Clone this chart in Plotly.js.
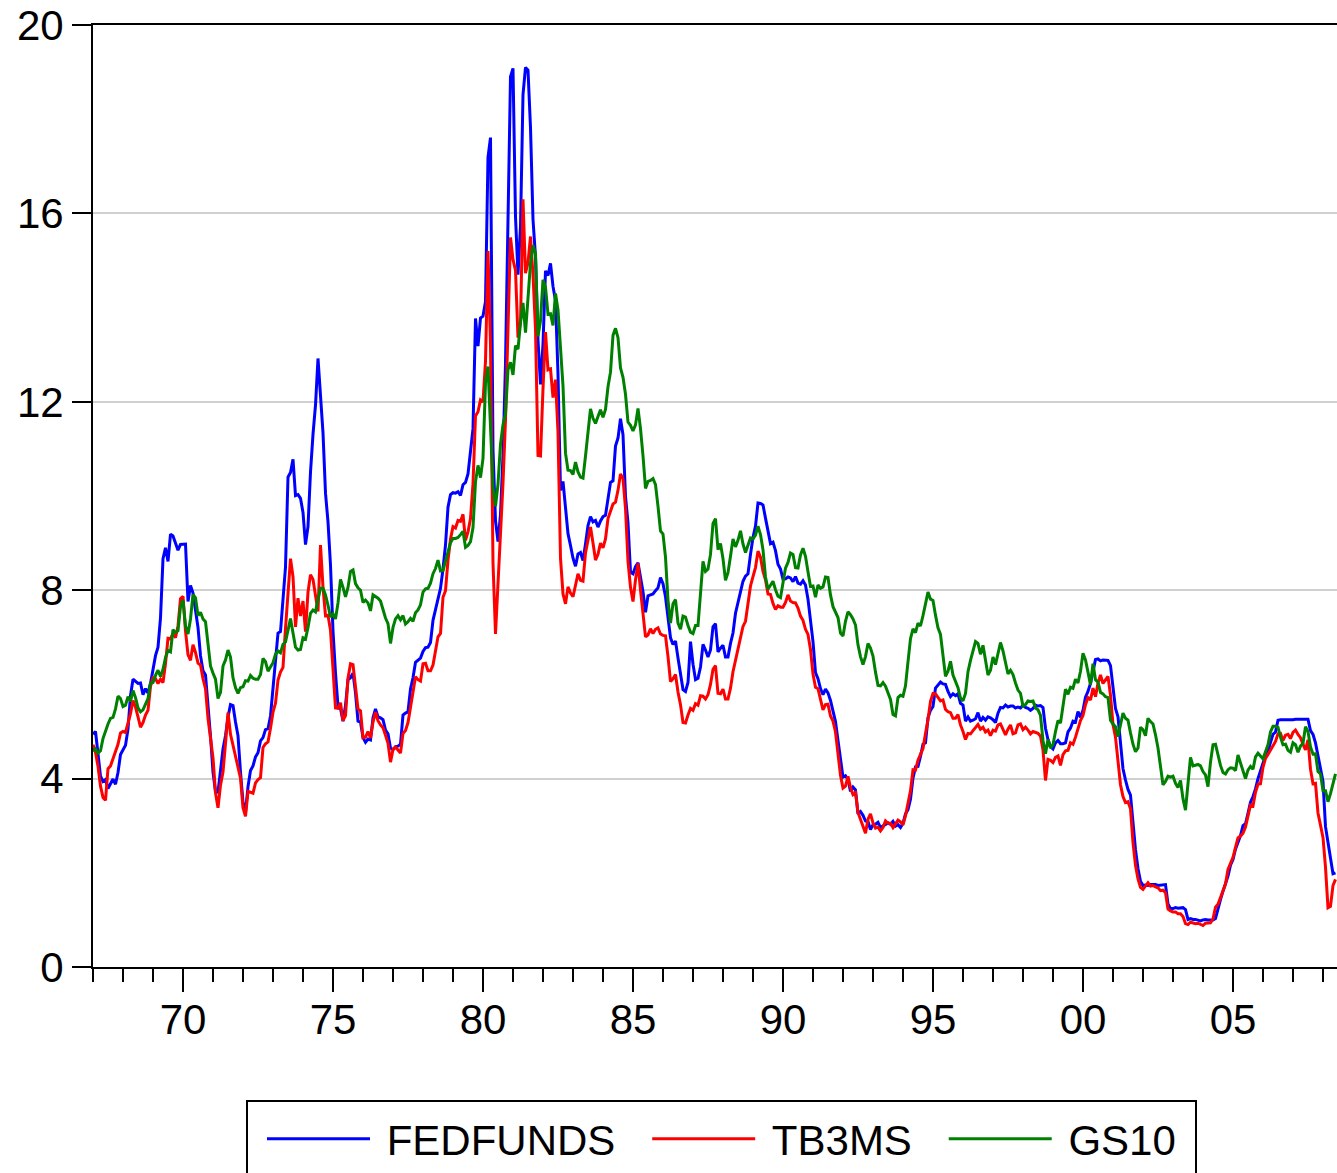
<!DOCTYPE html>
<html>
<head>
<meta charset="utf-8">
<script src="https://cdn.plot.ly/plotly-3.0.1.min.js"></script>
<style>
  html, body { margin: 0; padding: 0; background: #ffffff; }
  #chart { width: 1337px; height: 1173px; }
</style>
</head>
<body>
<div id="chart"></div>
<script>
// Monthly observations, 1967:01 - 2008:06
var startYear = 1967;
var seriesNames = ["FEDFUNDS", "TB3MS", "GS10"];
var xTickYears = [1970, 1975, 1980, 1985, 1990, 1995, 2000, 2005];
var xTickLabels = ["70", "75", "80", "85", "90", "95", "00", "05"];
var yTickValues = [0, 4, 8, 12, 16, 20];

var fedfunds = [
  4.94,5.00,4.53,4.05,3.94,3.98,3.79,3.90,3.99,3.88,4.13,4.51,
  4.60,4.71,5.05,5.76,6.11,6.07,6.02,6.03,5.78,5.91,5.82,6.02,
  6.30,6.61,6.79,7.41,8.67,8.90,8.61,9.19,9.15,9.00,8.85,8.97,
  8.98,8.98,7.76,8.10,7.94,7.60,7.21,6.61,6.29,6.20,5.60,4.90,
  4.14,3.72,3.71,4.16,4.63,4.91,5.31,5.57,5.55,5.20,4.91,4.14,
  3.50,3.29,3.83,4.17,4.27,4.46,4.55,4.80,4.87,5.04,5.06,5.33,
  5.94,6.58,7.09,7.12,7.84,8.49,10.40,10.50,10.78,10.01,10.03,9.95,
  9.65,8.97,9.35,10.51,11.31,11.93,12.92,12.01,11.34,10.06,9.45,8.53,
  7.13,6.24,5.54,5.49,5.22,5.55,6.10,6.14,6.24,5.82,5.22,5.20,
  4.87,4.77,4.84,4.82,5.29,5.48,5.31,5.29,5.25,5.03,4.95,4.65,
  4.61,4.68,4.69,4.73,5.35,5.39,5.42,5.90,6.14,6.47,6.51,6.56,
  6.70,6.78,6.79,6.89,7.36,7.60,7.81,8.04,8.45,8.96,9.76,10.03,
  10.07,10.06,10.09,10.01,10.24,10.29,10.47,10.94,11.43,13.77,13.18,13.78,
  13.82,14.13,17.19,17.61,10.98,9.47,9.03,9.61,10.87,12.81,15.85,18.90,
  19.08,15.93,14.70,15.72,18.52,19.10,19.04,17.82,15.87,15.08,13.31,12.37,
  13.22,14.78,14.68,14.94,14.45,14.15,12.59,10.12,10.31,9.71,9.20,8.95,
  8.68,8.51,8.77,8.80,8.63,8.98,9.37,9.56,9.45,9.48,9.34,9.47,
  9.56,9.59,9.91,10.29,10.32,11.06,11.23,11.64,11.30,9.99,9.43,8.38,
  8.35,8.50,8.58,8.27,7.97,7.53,7.88,7.90,7.92,7.99,8.05,8.27,
  8.14,7.86,7.48,6.99,6.85,6.92,6.56,6.17,5.89,5.85,6.04,6.91,
  6.43,6.10,6.13,6.37,6.85,6.73,6.58,6.73,7.22,7.29,6.69,6.77,
  6.83,6.58,6.58,6.87,7.09,7.51,7.75,8.01,8.19,8.30,8.35,8.76,
  9.12,9.36,9.85,9.84,9.81,9.53,9.24,8.99,9.02,8.84,8.55,8.45,
  8.23,8.24,8.28,8.26,8.18,8.29,8.15,8.13,8.20,8.11,7.81,7.31,
  6.91,6.25,6.12,5.91,5.78,5.90,5.82,5.66,5.45,5.21,4.81,4.43,
  4.03,4.06,3.98,3.73,3.82,3.76,3.25,3.30,3.22,3.10,3.09,2.92,
  3.02,3.03,3.07,2.96,3.00,3.04,3.06,3.03,3.09,2.99,3.02,2.96,
  3.05,3.25,3.34,3.56,4.01,4.25,4.26,4.47,4.73,4.76,5.29,5.45,
  5.53,5.92,5.98,6.05,6.01,6.00,5.85,5.74,5.80,5.76,5.80,5.60,
  5.56,5.22,5.31,5.22,5.24,5.27,5.40,5.22,5.30,5.24,5.31,5.29,
  5.25,5.19,5.39,5.51,5.50,5.56,5.52,5.54,5.54,5.50,5.52,5.50,
  5.56,5.51,5.49,5.45,5.49,5.56,5.54,5.55,5.51,5.07,4.83,4.68,
  4.63,4.76,4.81,4.74,4.74,4.76,4.99,5.07,5.22,5.20,5.42,5.30,
  5.45,5.73,5.85,6.02,6.27,6.53,6.54,6.50,6.52,6.51,6.51,6.40,
  5.98,5.49,5.31,4.80,4.21,3.97,3.77,3.65,3.07,2.49,2.09,1.82,
  1.73,1.74,1.73,1.75,1.75,1.75,1.73,1.74,1.75,1.75,1.34,1.24,
  1.24,1.26,1.25,1.26,1.26,1.22,1.01,1.03,1.01,1.01,1.00,0.98,
  1.00,1.01,1.00,1.00,1.00,1.03,1.26,1.43,1.61,1.76,1.93,2.16,
  2.28,2.50,2.63,2.79,3.00,3.04,3.26,3.50,3.62,3.78,4.00,4.16,
  4.29,4.49,4.59,4.79,4.94,4.99,5.24,5.25,5.25,5.25,5.25,5.24,
  5.25,5.26,5.26,5.25,5.25,5.25,5.26,5.02,4.94,4.76,4.49,4.24,
  3.94,2.98,2.61,2.28,1.98,2.00
];

var tb3ms = [
  4.72,4.56,4.26,3.84,3.60,3.54,4.21,4.27,4.42,4.56,4.73,4.97,
  5.00,4.98,5.17,5.38,5.66,5.52,5.31,5.09,5.19,5.35,5.45,5.96,
  6.14,6.12,6.02,6.11,6.04,6.44,6.98,6.97,7.08,6.99,7.24,7.82,
  7.87,7.13,6.63,6.51,6.84,6.68,6.45,6.41,6.12,5.91,5.28,4.87,
  4.44,3.70,3.38,3.86,4.14,4.75,5.40,4.94,4.69,4.46,4.22,4.01,
  3.38,3.20,3.73,3.71,3.69,3.91,3.98,4.02,4.66,4.74,4.78,5.07,
  5.41,5.60,6.09,6.26,6.36,7.19,8.01,8.67,8.29,7.22,7.83,7.45,
  7.77,7.12,7.96,8.33,8.23,7.90,7.55,8.96,8.06,7.46,7.47,7.15,
  6.26,5.50,5.49,5.61,5.23,5.34,6.13,6.44,6.42,5.96,5.48,5.44,
  4.87,4.88,5.00,4.86,5.20,5.41,5.23,5.14,5.08,4.92,4.75,4.35,
  4.62,4.67,4.60,4.54,4.96,5.02,5.19,5.49,5.81,6.16,6.10,6.07,
  6.44,6.45,6.29,6.29,6.41,6.73,7.01,7.08,7.85,7.99,8.64,9.08,
  9.35,9.32,9.48,9.46,9.61,9.06,9.24,9.52,10.26,11.70,11.79,12.04,
  12.00,12.86,15.20,13.20,8.58,7.07,8.06,9.13,10.27,11.62,13.73,15.49,
  15.02,14.79,13.36,13.69,16.30,14.73,14.95,15.51,14.70,13.54,10.86,10.85,
  12.28,13.48,12.68,12.70,12.09,12.47,11.35,8.68,7.92,7.71,8.07,7.94,
  7.86,8.11,8.35,8.21,8.19,8.79,9.08,9.34,9.00,8.64,8.76,9.00,
  8.90,9.09,9.52,9.69,9.83,9.87,10.12,10.47,10.37,9.74,8.61,8.06,
  7.76,8.22,8.57,8.00,7.56,7.01,7.05,7.18,7.08,7.17,7.20,7.07,
  7.04,7.03,6.59,6.06,6.12,6.21,5.84,5.57,5.19,5.18,5.35,5.49,
  5.45,5.59,5.56,5.76,5.75,5.69,5.78,6.00,6.32,6.40,5.81,5.80,
  5.90,5.69,5.69,5.92,6.27,6.50,6.73,7.02,7.23,7.34,7.68,8.09,
  8.29,8.48,8.83,8.70,8.40,8.22,7.92,7.91,7.72,7.59,7.67,7.64,
  7.64,7.74,7.90,7.77,7.74,7.73,7.62,7.45,7.36,7.17,7.06,6.74,
  6.22,5.94,5.91,5.65,5.46,5.57,5.58,5.33,5.22,4.99,4.56,4.07,
  3.80,3.84,4.05,3.81,3.66,3.70,3.28,3.14,2.97,2.84,3.14,3.25,
  3.06,2.95,2.97,2.89,2.96,3.10,3.05,3.05,2.96,3.04,3.12,3.08,
  3.02,3.21,3.52,3.74,4.19,4.18,4.39,4.50,4.64,4.96,5.25,5.64,
  5.81,5.80,5.73,5.65,5.67,5.47,5.42,5.40,5.28,5.28,5.36,5.14,
  5.00,4.83,4.96,4.95,5.02,5.09,5.15,5.05,5.09,4.99,5.03,4.91,
  5.03,5.01,5.14,5.16,5.05,4.93,5.05,5.14,4.95,4.97,5.14,5.16,
  5.04,5.09,5.03,4.95,5.00,4.98,4.96,4.90,4.61,3.96,4.41,4.39,
  4.34,4.45,4.48,4.28,4.51,4.59,4.60,4.76,4.73,4.88,5.07,5.23,
  5.34,5.57,5.72,5.67,5.92,5.74,6.03,6.20,6.02,6.11,6.17,5.77,
  5.15,4.88,4.42,3.87,3.62,3.49,3.51,3.36,2.64,2.16,1.87,1.69,
  1.65,1.73,1.79,1.72,1.73,1.70,1.68,1.62,1.63,1.58,1.23,1.19,
  1.17,1.17,1.13,1.13,1.07,0.92,0.90,0.95,0.94,0.92,0.93,0.90,
  0.88,0.93,0.94,0.94,1.02,1.27,1.33,1.48,1.65,1.76,2.07,2.19,
  2.33,2.54,2.74,2.78,2.84,2.97,3.22,3.44,3.42,3.71,3.88,3.89,
  4.24,4.43,4.51,4.60,4.72,4.79,4.95,4.96,4.81,4.92,4.94,4.85,
  4.98,5.03,4.94,4.87,4.73,4.61,4.82,4.20,3.89,3.90,3.27,3.00,
  2.75,2.12,1.26,1.29,1.73,1.86
];

var gs10 = [
  4.58,4.63,4.54,4.59,4.85,5.02,5.16,5.28,5.30,5.48,5.75,5.70,
  5.53,5.56,5.74,5.64,5.87,5.72,5.50,5.42,5.46,5.58,5.70,6.03,
  6.04,6.19,6.30,6.17,6.32,6.57,6.72,6.69,7.16,7.10,7.14,7.65,
  7.79,7.24,7.07,7.39,7.91,7.84,7.46,7.53,7.39,7.33,6.84,6.39,
  6.24,6.11,5.70,5.83,6.39,6.52,6.73,6.58,6.14,5.93,5.81,5.93,
  5.95,6.08,6.07,6.19,6.13,6.11,6.11,6.21,6.55,6.48,6.28,6.36,
  6.46,6.64,6.71,6.67,6.85,6.90,7.13,7.40,7.09,6.79,6.73,6.74,
  6.99,6.96,7.21,7.51,7.58,7.54,7.81,8.04,8.04,7.90,7.68,7.43,
  7.50,7.39,7.73,8.23,8.06,7.86,8.06,8.40,8.43,8.14,8.05,8.00,
  7.74,7.79,7.73,7.56,7.90,7.86,7.83,7.77,7.59,7.41,7.29,6.87,
  7.21,7.39,7.46,7.37,7.46,7.28,7.33,7.40,7.34,7.52,7.58,7.69,
  7.96,8.03,8.04,8.15,8.35,8.46,8.64,8.41,8.42,8.64,8.81,9.01,
  9.10,9.10,9.12,9.18,9.25,8.91,8.95,9.03,9.33,10.30,10.65,10.39,
  10.80,12.41,12.75,11.47,10.18,9.78,10.25,11.10,11.51,11.75,12.68,12.84,
  12.57,13.19,13.12,13.68,14.10,13.47,14.28,14.94,15.32,15.15,13.39,13.72,
  14.59,14.43,13.86,13.87,13.62,14.30,13.95,13.06,12.34,10.91,10.55,10.54,
  10.46,10.72,10.51,10.40,10.38,10.85,11.38,11.85,11.65,11.54,11.69,11.83,
  11.67,11.84,12.32,12.63,13.41,13.56,13.36,12.72,12.52,12.16,11.57,11.50,
  11.38,11.51,11.86,11.43,10.85,10.16,10.31,10.33,10.37,10.24,9.78,9.26,
  9.19,8.70,7.78,7.30,7.71,7.80,7.30,7.17,7.45,7.43,7.25,7.11,
  7.08,7.25,7.25,8.02,8.61,8.40,8.45,8.76,9.42,9.52,8.86,8.99,
  8.67,8.21,8.37,8.72,9.09,8.92,9.06,9.26,8.98,8.80,8.96,9.11,
  9.09,9.17,9.36,9.18,8.86,8.28,8.02,8.11,8.19,8.01,7.87,7.84,
  8.21,8.47,8.59,8.79,8.76,8.48,8.47,8.75,8.89,8.72,8.39,8.08,
  8.09,7.85,8.11,8.04,8.07,8.28,8.27,7.90,7.65,7.53,7.42,7.09,
  7.03,7.34,7.54,7.48,7.39,7.26,6.84,6.59,6.42,6.59,6.87,6.77,
  6.60,6.26,5.98,5.97,6.04,5.96,5.81,5.68,5.36,5.33,5.72,5.77,
  5.75,5.97,6.48,6.97,7.18,7.10,7.30,7.24,7.46,7.74,7.96,7.81,
  7.78,7.47,7.20,7.06,6.63,6.17,6.28,6.49,6.20,6.04,5.93,5.71,
  5.65,5.81,6.27,6.51,6.74,6.91,6.87,6.64,6.83,6.53,6.20,6.30,
  6.58,6.42,6.69,6.89,6.71,6.49,6.22,6.30,6.21,6.03,5.88,5.81,
  5.54,5.57,5.65,5.64,5.65,5.50,5.46,5.34,4.81,4.53,4.83,4.65,
  4.72,5.00,5.23,5.18,5.54,5.90,5.79,5.94,5.92,6.11,6.03,6.28,
  6.66,6.52,6.26,5.99,6.44,6.10,6.05,5.83,5.80,5.74,5.72,5.24,
  5.16,5.10,4.89,5.14,5.39,5.28,5.24,4.97,4.73,4.57,4.65,5.09,
  5.04,4.91,5.28,5.21,5.16,4.93,4.65,4.26,3.87,3.94,4.05,4.03,
  4.05,3.90,3.81,3.96,3.57,3.33,3.98,4.45,4.27,4.29,4.30,4.27,
  4.15,4.08,3.83,4.35,4.72,4.73,4.50,4.28,4.13,4.10,4.19,4.23,
  4.22,4.17,4.50,4.34,4.14,4.00,4.18,4.26,4.20,4.46,4.54,4.47,
  4.42,4.57,4.72,4.99,5.11,5.11,5.09,4.88,4.72,4.73,4.60,4.56,
  4.76,4.72,4.56,4.69,4.75,5.10,5.00,4.67,4.52,4.53,4.15,4.10,
  3.74,3.74,3.51,3.68,3.88,4.10
];

var seriesColors = ["#0000ff", "#ff0000", "#008000"];

// x positions: observation month expressed as decimal year
var xs = [];
for (var i = 0; i < fedfunds.length; i++) { xs.push(startYear + i / 12); }

var FONT = "Arial, 'Liberation Sans', Helvetica, sans-serif";
var NB = "\u00a0";
var seriesData = [fedfunds, tb3ms, gs10];
var traces = seriesData.map(function (vals, k) {
  // legend labels padded with non-breaking spaces to reproduce the legend spacing
  var label = NB + seriesNames[k] + (k < seriesNames.length - 1 ? NB + NB + "\u200a" : "");
  return {
    type: "scatter", mode: "lines",
    x: xs, y: vals, name: label,
    line: { color: seriesColors[k], width: 3 },
    hoverinfo: "skip"
  };
});

var minorYears = [];
for (var yr = 1967; yr <= 2008; yr++) minorYears.push(yr);

// paper-coordinate helpers for the legend frame (plot area: x 93..1337, y 25..967)
function px2x(p) { return (p - 93) / 1244; }
function py2y(p) { return (967 - p) / 942; }

var layout = {
  width: 1337, height: 1173,
  margin: { l: 93, r: 0, t: 25, b: 206, pad: 0, autoexpand: false },
  paper_bgcolor: "#ffffff", plot_bgcolor: "#ffffff",
  font: { family: FONT, color: "#000000", size: 42 },
  showlegend: true,
  xaxis: {
    range: [1967, 2008.467],
    tickmode: "array", tickvals: xTickYears, ticktext: xTickLabels,
    ticks: "outside", ticklen: 23, tickwidth: 2, tickcolor: "#000000",
    ticklabelstandoff: -8,
    showline: true, linewidth: 2, linecolor: "#000000", mirror: true,
    showgrid: false, zeroline: false,
    tickfont: { family: FONT, size: 42, color: "#000000" },
    minor: { tickmode: "array", tickvals: minorYears, ticks: "outside", ticklen: 13, tickwidth: 2, tickcolor: "#000000", showgrid: false }
  },
  yaxis: {
    range: [0, 20],
    tickmode: "array", tickvals: yTickValues,
    ticks: "outside", ticklen: 19, tickwidth: 2, tickcolor: "#000000",
    showline: true, linewidth: 2, linecolor: "#000000",
    showgrid: true, gridcolor: "#d0d0d0", gridwidth: 2, zeroline: false,
    tickfont: { family: FONT, size: 42, color: "#000000" }
  },
  legend: {
    orientation: "h",
    x: px2x(262), xanchor: "left",
    y: py2y(1105), yanchor: "top",
    borderwidth: 0, bgcolor: "rgba(0,0,0,0)",
    itemwidth: 103,
    font: { family: FONT, size: 42, color: "#000000" }
  },
  shapes: [{
    type: "rect", xref: "paper", yref: "paper",
    x0: px2x(247), x1: px2x(1196), y0: py2y(1101), y1: py2y(1190),
    line: { color: "#000000", width: 2 }, fillcolor: "rgba(0,0,0,0)", layer: "below"
  }]
};

Plotly.newPlot("chart", traces, layout, { staticPlot: true, displayModeBar: false });
</script>
</body>
</html>
